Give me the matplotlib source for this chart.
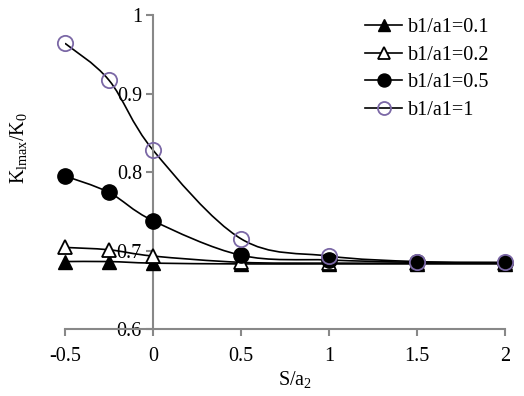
import numpy as np
import matplotlib
matplotlib.use("Agg")
import matplotlib.pyplot as plt
from matplotlib.path import Path
from matplotlib.patches import PathPatch
from matplotlib.lines import Line2D

plt.rcParams['font.family'] = ['Liberation Serif', 'DejaVu Serif']
plt.rcParams['mathtext.fontset'] = 'custom'
plt.rcParams['mathtext.rm'] = 'Liberation Serif'
plt.rcParams['mathtext.it'] = 'Liberation Serif'

s_ratio = [-0.5, -0.25, 0, 0.5, 1, 1.5, 2]
k_01 = [0.686, 0.686, 0.684, 0.683, 0.683, 0.683, 0.683]
k_02 = [0.704, 0.701, 0.693, 0.685, 0.684, 0.684, 0.684]
k_05 = [0.795, 0.774, 0.738, 0.694, 0.688, 0.685, 0.684]
k_10 = [0.964, 0.917, 0.828, 0.715, 0.693, 0.686, 0.685]
labels = ['b1/a1=0.1', 'b1/a1=0.2', 'b1/a1=0.5', 'b1/a1=1']

FS = 14.5

styles = [
    dict(marker='^', markersize=10, markerfacecolor='black', markeredgecolor='black'),
    dict(marker='^', markersize=10, markerfacecolor='white', markeredgecolor='black',
         markeredgewidth=1.3),
    dict(marker='o', markersize=11, markerfacecolor='black', markeredgecolor='black'),
    dict(marker='o', markersize=11, markerfacecolor='none', markeredgecolor='#7b68a6',
         markeredgewidth=1.3),
]


def smooth_path(ax, xs, ys):
    # Excel-like smoothed line: cubic Bezier segments in display space
    pts = ax.transData.transform(np.column_stack([xs, ys]))
    n = len(pts)
    verts = [pts[0]]
    codes = [Path.MOVETO]
    for i in range(n - 1):
        p0 = pts[i - 1] if i > 0 else pts[i]
        p1 = pts[i]
        p2 = pts[i + 1]
        p3 = pts[i + 2] if i + 2 < n else pts[i + 1]
        c1 = p1 + (p2 - p0) / 6.0
        c2 = p2 - (p3 - p1) / 6.0
        verts += [c1, c2, p2]
        codes += [Path.CURVE4] * 3
    return Path(verts, codes)


fig = plt.figure(figsize=(5.24, 3.96), dpi=100)
ax = fig.add_axes([0.124, 0.169, 0.840, 0.793])
ax.set_xlim(-0.5, 2)
ax.set_ylim(0.6, 1)

for ys, st in zip([k_01, k_02, k_05, k_10], styles):
    path = smooth_path(ax, s_ratio, ys)
    ax.add_patch(PathPatch(path, facecolor='none', edgecolor='black', lw=1.2,
                           transform=None, zorder=2))
    ax.plot(s_ratio, ys, linestyle='none', clip_on=False, zorder=3, **st)

ax.spines['left'].set_position(('data', 0))
ax.spines['top'].set_visible(False)
ax.spines['right'].set_visible(False)
for sp in ['left', 'bottom']:
    ax.spines[sp].set_color('#888888')
    ax.spines[sp].set_linewidth(1.5)

ax.set_xticks([-0.5, 0, 0.5, 1, 1.5, 2])
ax.set_xticklabels(['-0.5', '0', '0.5', '1', '1.5', '2'])
ax.set_yticks([0.6, 0.7, 0.8, 0.9, 1.0])
ax.set_yticklabels(['0.6', '0.7', '0.8', '0.9', '1'])
ax.tick_params(axis='both', colors='#888888', labelcolor='black', labelsize=FS,
               length=5, width=1.5, direction='out')
ax.tick_params(axis='x', pad=8)
ax.tick_params(axis='y', pad=3)

ax.set_xlabel('S/a$_2$', fontsize=FS)
ax.xaxis.set_label_coords(0.523, -0.128)
ax.set_ylabel('K$_{\\mathrm{lmax}}$/K$_0$', fontsize=FS)
ax.yaxis.set_label_coords(-0.082, 0.576)

handles = [Line2D([], [], color='black', lw=1.2, **st) for st in styles]
fig.legend(handles, labels, loc='upper left', bbox_to_anchor=(0.697, 0.954),
           frameon=False, fontsize=FS, handlelength=1.85, handletextpad=0.25,
           labelspacing=0.42, borderpad=0, borderaxespad=0, markerscale=0.85)

fig.savefig('out.png', dpi=100)
